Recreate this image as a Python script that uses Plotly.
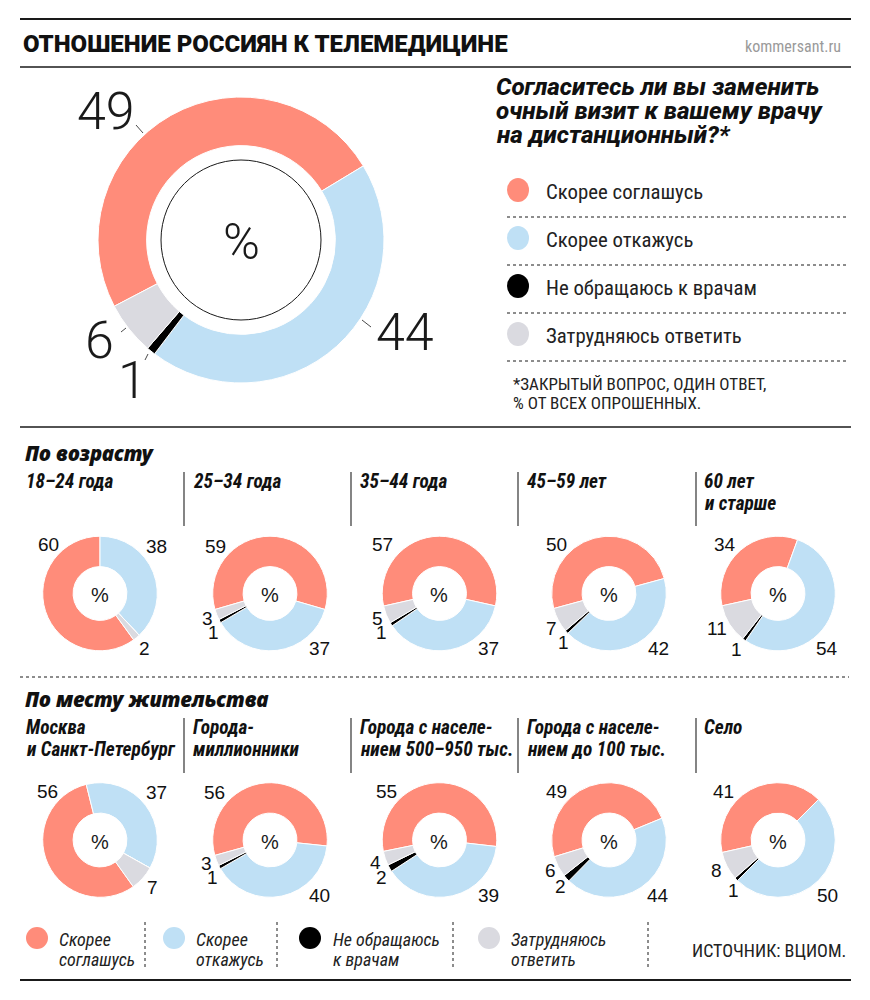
import plotly.graph_objects as go

W, H = 870, 1000
# ---------- data ----------
answers = ["Скорее соглашусь", "Скорее откажусь", "Не обращаюсь к врачам", "Затрудняюсь ответить"]
colors = ["#FF8C7A", "#BFE0F5", "#000000", "#DADAE0"]
total = [49, 44, 1, 6]
age_groups = ["18–24 года", "25–34 года", "35–44 года", "45–59 лет", "60 лет<br>и старше"]
age_agree = [60, 59, 57, 50, 34]
age_refuse = [38, 37, 37, 42, 54]
age_nodoc = [0, 1, 1, 1, 1]
age_unsure = [2, 3, 5, 7, 11]
place_groups = ["Москва<br>и Санкт-Петербург", "Города-<br>миллионники", "Города с населе-<br>нием 500–950 тыс.",
                "Города с населе-<br>нием до 100 тыс.", "Село"]
place_agree = [56, 56, 55, 49, 41]
place_refuse = [37, 40, 39, 44, 50]
place_nodoc = [0, 1, 2, 2, 1]
place_unsure = [7, 3, 4, 6, 8]

# ---------- layout helpers ----------
NARROW = "Roboto"
SANS = "Liberation Sans"
HEAVY = "Noto Sans"
LIGHT = 300
INK = "#1a1a1a"
shapes, notes, traces = [], [], []
px = lambda x: x / W
py = lambda y: 1 - y / H

def pie(vals, cx, cy, R, hole, rot):
    traces.append(go.Pie(values=vals, labels=answers, sort=False, direction="clockwise", rotation=rot, hole=hole,
                         domain=dict(x=[px(cx - R), px(cx + R)], y=[py(cy + R), py(cy - R)]),
                         marker=dict(colors=colors, line=dict(color="white", width=1)),
                         textinfo="none", showlegend=False, hoverinfo="label+value"))

def line(x0, y0, x1, y1, w=1.0, dash="solid", c=INK):
    shapes.append(dict(type="line", xref="paper", yref="paper", x0=px(x0), y0=py(y0), x1=px(x1), y1=py(y1),
                       line=dict(color=c, width=w, dash=dash)))

def circle(cx, cy, rx, ry, c):
    shapes.append(dict(type="circle", xref="paper", yref="paper", x0=px(cx - rx), x1=px(cx + rx),
                       y0=py(cy + ry), y1=py(cy - ry), fillcolor=c, line=dict(width=0)))

def text(x, y, s, size, fam=NARROW, anchor="left", c=INK, weight=400, style="normal"):
    notes.append(dict(xref="paper", yref="paper", x=px(x), y=py(y), text=s, showarrow=False, xanchor=anchor,
                      yanchor="middle", align=anchor, borderpad=0,
                      font=dict(family=fam, size=size, color=c, weight=weight, style=style)))

# ---------- frame ----------
line(20, 19, 851, 19, 2)
line(20, 67, 851, 67, 1.5)
line(20, 427, 851, 427, 1.5)
line(20, 980, 851, 980, 2.2)
line(20, 677, 849, 677, 1, "dot")
text(22, 44, "ОТНОШЕНИЕ РОССИЯН К ТЕЛЕМЕДИЦИНЕ", 24, NARROW, weight=900, c="#111")
text(842, 46, "kommersant.ru", 16, NARROW, anchor="right", c="#9a9a9a")

# ---------- main donut ----------
pie(total, 241, 240, 143, 0.66, -117.6)
circle(241, 240, 80, 80, "rgba(0,0,0,0)")
shapes[-1]["line"] = dict(color=INK, width=1)
text(241, 242, "%", 50, "Roboto", anchor="center", weight=LIGHT)
for val, (x, y) in zip(total, [(106, 112), (405, 332), (132, 380), (99, 340)]):
    text(x, y, str(val), 52, "Roboto", anchor="center", weight=LIGHT)
line(136, 125, 143, 133, 0.8)
line(362, 320, 371, 327, 0.8)
line(121, 332, 126, 328, 0.8)
line(145, 360, 148, 354, 0.8)

# ---------- question + legend ----------
for y, s in zip([87, 111, 135], ["Согласитесь ли вы заменить", "очный визит к вашему врачу", "на дистанционный?*"]):
    text(495, y, s, 24.2, NARROW, weight=800, style="italic", c="#111")
for i, y in enumerate([190, 238, 286, 334]):
    circle(518, y, 11, 12, colors[i])
    text(545, y + 1.5, answers[i], 20.8, NARROW, c="#222")
    line(507, y + 27, 849, y + 27, 1, "dot")
text(512, 384, "*ЗАКРЫТЫЙ ВОПРОС, ОДИН ОТВЕТ,", 17, NARROW, c="#222")
text(512, 403, "% ОТ ВСЕХ ОПРОШЕННЫХ.", 17, NARROW, c="#222")

# ---------- small donuts ----------
centers = [100, 270, 439.5, 609, 778]
sub_x = [25, 192, 359, 526, 703]
sep_x = [184, 351, 518, 696]

def row(head, head_y, groups, agree, refuse, nodoc, unsure, cy, rots, label_xy, sub_y, sep_y):
    text(24, head_y, head, 20.5, HEAVY, weight=900, style="italic", c="#111")
    for x in sep_x:
        line(x, sep_y[0], x, sep_y[1], 1.2, c="#333")
    for i, cx in enumerate(centers):
        vals = [agree[i], refuse[i], nodoc[i], unsure[i]]
        pie(vals, cx, cy, 57.3, 0.47, rots[i])
        text(cx, cy + 1.5, "%", 20, SANS, anchor="center")
        lines = groups[i].split("<br>")
        for j, s in enumerate(lines):
            text(sub_x[i], sub_y + j * 22, s, 19.3, NARROW, weight=700, style="italic", c="#111")
        shown = [v for v in vals if v > 0]
        for v, (x, y) in zip(shown, label_xy[i]):
            text(x, y, str(v), 19, SANS, anchor="center", c="#111")

age_rot = [144, -106.2, -102.7, -105.2, -102.4]
age_xy = [[(48, 544), (156, 546), (144, 648)],
          [(215, 546), (319, 648), (213, 632), (207, 618)],
          [(382, 544), (488, 648), (381, 632), (377, 618)],
          [(556, 544), (658, 648), (563, 642), (551, 628)],
          [(725, 544), (827, 648), (736, 649), (717, 628)]]
row("По возрасту", 453, age_groups, age_agree, age_refuse, age_nodoc, age_unsure, 593.5, age_rot, age_xy, 481, (472, 526))

place_rot = [144.5, -105.6, -101.5, -107, -102.6]
place_xy = [[(47, 791), (156, 792), (152, 887)],
            [(214, 792), (319, 895), (212, 877), (206, 863)],
            [(386, 791), (488, 895), (381, 877), (375, 862)],
            [(556, 791), (658, 895), (560, 886), (550, 870)],
            [(723, 791), (827, 895), (733, 890), (716, 870)]]
row("По месту жительства", 699, place_groups, place_agree, place_refuse, place_nodoc, place_unsure, 840, place_rot, place_xy, 727, (718, 773))

# ---------- bottom legend ----------
bottom = [("Скорее", "соглашусь"), ("Скорее", "откажусь"), ("Не обращаюсь", "к врачам"), ("Затрудняюсь", "ответить")]
for i, (cx, tx) in enumerate(zip([37, 174, 310, 489], [58, 195, 332, 510])):
    circle(cx, 938, 11, 11, colors[i])
    text(tx, 939, bottom[i][0], 18, NARROW, style="italic", c="#222")
    text(tx, 959, bottom[i][1], 18, NARROW, style="italic", c="#222")
for x in [145, 277, 453, 648]:
    line(x, 922, x, 970, 1, "dot")
text(691, 950, "ИСТОЧНИК: ВЦИОМ.", 18, NARROW, c="#222")

fig = go.Figure(traces)
fig.update_layout(width=W, height=H, margin=dict(l=0, r=0, t=0, b=0), paper_bgcolor="white",
                  shapes=shapes, annotations=notes, showlegend=False)
# Roboto's condensed face gives the narrow look; re-measure the labels with it on
condense = """
document.body.style.margin='0';
var s=document.createElement('style');
s.textContent='svg text[style*="Roboto"]:not([style*="font-weight: 300"]):not([style*="font-weight: 900"]):not([style*="font-weight: 800"]){font-stretch:75%}';
document.head.appendChild(s);
var gd=document.getElementById('{plot_id}');
var a=JSON.parse(JSON.stringify(gd.layout.annotations));
a.forEach(function(n){n.font.size+=0.01;});
Plotly.relayout(gd,{annotations:a});
"""
fig.write_html("out.html", post_script=condense, config=dict(displayModeBar=False))
